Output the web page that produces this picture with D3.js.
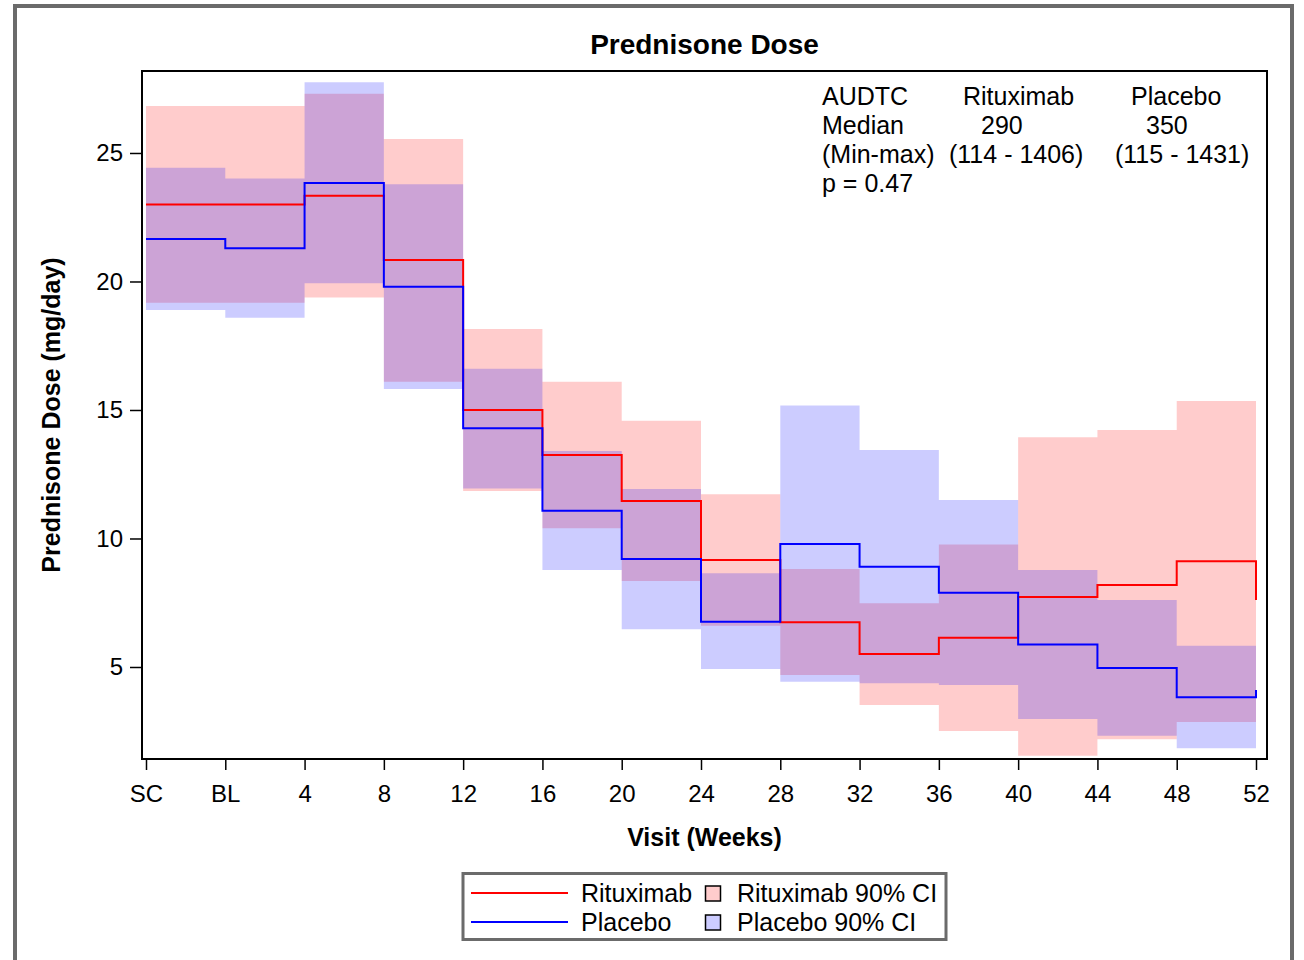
<!DOCTYPE html>
<html>
<head>
<meta charset="utf-8">
<script src="https://cdn.jsdelivr.net/npm/d3@7"></script>
<style>
  html, body { margin: 0; padding: 0; background: #fff; }
  svg { display: block; font-family: "Liberation Sans", Arial, sans-serif; }
</style>
</head>
<body>
<svg id="chart" width="1304" height="960"></svg>
<script>
// Visits (x categories)
const visits = ["SC", "BL", "4", "8", "12", "16", "20", "24", "28", "32", "36", "40", "44", "48", "52"];

// Median prednisone dose (mg/day) per visit
const rituximab = [23.0, 23.0, 23.34, 20.84, 15.0, 13.25, 11.46, 9.16, 6.74, 5.51, 6.14, 7.72, 8.19, 9.11, 7.61];
const placebo   = [21.65, 21.29, 23.83, 19.80, 14.29, 11.08, 9.20, 6.76, 9.79, 8.90, 7.89, 5.88, 4.96, 3.82, 4.10];

// 90% confidence limits
const rituximabLower = [19.17, 19.17, 19.38, 16.10, 11.85, 10.40, 8.35, 6.60, 4.69, 3.52, 2.51, 1.55, 2.19, 2.86, 2.9];
const rituximabUpper = [26.83, 26.83, 27.30, 25.54, 18.15, 16.10, 14.58, 11.72, 8.81, 7.48, 9.77, 13.94, 14.22, 15.35, 12.7];
const placeboLower   = [18.89, 18.59, 19.93, 15.82, 11.95, 8.77, 6.47, 4.92, 4.43, 4.37, 4.30, 2.98, 2.32, 1.84, 2.1];
const placeboUpper   = [24.43, 24.01, 27.75, 23.78, 16.60, 13.40, 11.93, 8.65, 15.17, 13.44, 11.50, 8.77, 7.61, 5.83, 6.3];

const yTicks = [5, 10, 15, 20, 25];

// AUDTC summary table
const summaryRows = [
  ["AUDTC", "Rituximab", "Placebo"],
  ["Median", "290", "350"],
  ["(Min-max)", "(114 - 1406)", "(115 - 1431)"],
  ["p = 0.47", "", ""]
];

const legendItems = [
  { label: "Rituximab", band: "Rituximab 90% CI", color: "#ff0000" },
  { label: "Placebo", band: "Placebo 90% CI", color: "#0000ff" }
];

const svg = d3.select("#chart");
const plot = { left: 142, top: 71, right: 1267, bottom: 759 };

// Outer frame
svg.append("rect")
  .attr("x", 15).attr("y", 6)
  .attr("width", 1277).attr("height", 1000)
  .attr("fill", "none").attr("stroke", "#6b6b6b").attr("stroke-width", 4);

const x = d3.scalePoint().domain(visits).range([146, 1256]);
const y = d3.scaleLinear().domain([1.42, 28.19]).range([plot.bottom, plot.top]);

svg.append("defs").append("clipPath").attr("id", "plotClip")
  .append("rect")
  .attr("x", plot.left).attr("y", plot.top)
  .attr("width", plot.right - plot.left).attr("height", plot.bottom - plot.top);

const g = svg.append("g").attr("clip-path", "url(#plotClip)");

const rows = visits.map((v, i) => ({
  v,
  r: rituximab[i], p: placebo[i],
  rl: rituximabLower[i], ru: rituximabUpper[i],
  pl: placeboLower[i], pu: placeboUpper[i]
}));

const bandR = d3.area().curve(d3.curveStepAfter)
  .x(d => x(d.v)).y0(d => y(d.rl)).y1(d => y(d.ru));
const bandP = d3.area().curve(d3.curveStepAfter)
  .x(d => x(d.v)).y0(d => y(d.pl)).y1(d => y(d.pu));

g.append("path").datum(rows).attr("d", bandR)
  .attr("fill", "#ff0000").attr("fill-opacity", 0.2);
g.append("path").datum(rows).attr("d", bandP)
  .attr("fill", "#0000ff").attr("fill-opacity", 0.2);

const lineR = d3.line().curve(d3.curveStepAfter).x(d => x(d.v)).y(d => y(d.r));
const lineP = d3.line().curve(d3.curveStepAfter).x(d => x(d.v)).y(d => y(d.p));

g.append("path").datum(rows).attr("d", lineR)
  .attr("fill", "none").attr("stroke", "#ff0000").attr("stroke-width", 2);
g.append("path").datum(rows).attr("d", lineP)
  .attr("fill", "none").attr("stroke", "#0000ff").attr("stroke-width", 2);

// Plot frame
svg.append("rect")
  .attr("x", plot.left).attr("y", plot.top)
  .attr("width", plot.right - plot.left).attr("height", plot.bottom - plot.top)
  .attr("fill", "none").attr("stroke", "#000").attr("stroke-width", 2);

// Y axis
const yAxis = svg.append("g")
  .attr("transform", `translate(${plot.left - 1},0)`)
  .call(d3.axisLeft(y).tickValues(yTicks).tickSize(11).tickPadding(7).tickFormat(d3.format("d")));
yAxis.select(".domain").remove();
yAxis.selectAll(".tick line").attr("stroke", "#000").attr("stroke-width", 1.5);
yAxis.selectAll(".tick text")
  .attr("font-size", 24).attr("fill", "#000")
  .attr("font-family", "'Liberation Sans', Arial, sans-serif");

// X axis
const xAxis = svg.append("g")
  .attr("transform", `translate(0,${plot.bottom + 1})`)
  .call(d3.axisBottom(x).tickSize(10).tickPadding(15));
xAxis.select(".domain").remove();
xAxis.selectAll(".tick line").attr("stroke", "#000").attr("stroke-width", 1.5);
xAxis.selectAll(".tick text")
  .attr("font-size", 24).attr("fill", "#000")
  .attr("font-family", "'Liberation Sans', Arial, sans-serif");

// Titles
svg.append("text")
  .attr("x", (plot.left + plot.right) / 2).attr("y", 54)
  .attr("text-anchor", "middle").attr("font-size", 28).attr("font-weight", "bold")
  .text("Prednisone Dose");

svg.append("text")
  .attr("x", (plot.left + plot.right) / 2).attr("y", 846)
  .attr("text-anchor", "middle").attr("font-size", 25).attr("font-weight", "bold")
  .text("Visit (Weeks)");

svg.append("text")
  .attr("transform", `translate(60,${(plot.top + plot.bottom) / 2}) rotate(-90)`)
  .attr("text-anchor", "middle").attr("font-size", 25).attr("font-weight", "bold")
  .text("Prednisone Dose (mg/day)");

// Summary table inset
const colX = [
  [822, 963, 1131],
  [822, 981, 1146],
  [822, 949, 1115],
  [822, 0, 0]
];
summaryRows.forEach((row, ri) => {
  row.forEach((cell, ci) => {
    if (!cell) return;
    svg.append("text")
      .attr("x", colX[ri][ci]).attr("y", 105 + ri * 29)
      .attr("font-size", 25).attr("fill", "#000")
      .text(cell);
  });
});

// Legend
const lg = svg.append("g");
lg.append("rect")
  .attr("x", 463).attr("y", 873.5).attr("width", 483).attr("height", 66)
  .attr("fill", "#fff").attr("stroke", "#6b6b6b").attr("stroke-width", 3);
legendItems.forEach((item, i) => {
  const cy = 893 + i * 29;
  lg.append("line")
    .attr("x1", 471).attr("x2", 568).attr("y1", cy).attr("y2", cy)
    .attr("stroke", item.color).attr("stroke-width", 2);
  lg.append("text").attr("x", 581).attr("y", cy + 9)
    .attr("font-size", 25).text(item.label);
  lg.append("rect")
    .attr("x", 705.5).attr("y", cy - 7).attr("width", 15).attr("height", 15)
    .attr("fill", item.color).attr("fill-opacity", 0.2)
    .attr("stroke", "#000").attr("stroke-width", 1.5);
  lg.append("text").attr("x", 737).attr("y", cy + 9)
    .attr("font-size", 25).text(item.band);
});
</script>
</body>
</html>
